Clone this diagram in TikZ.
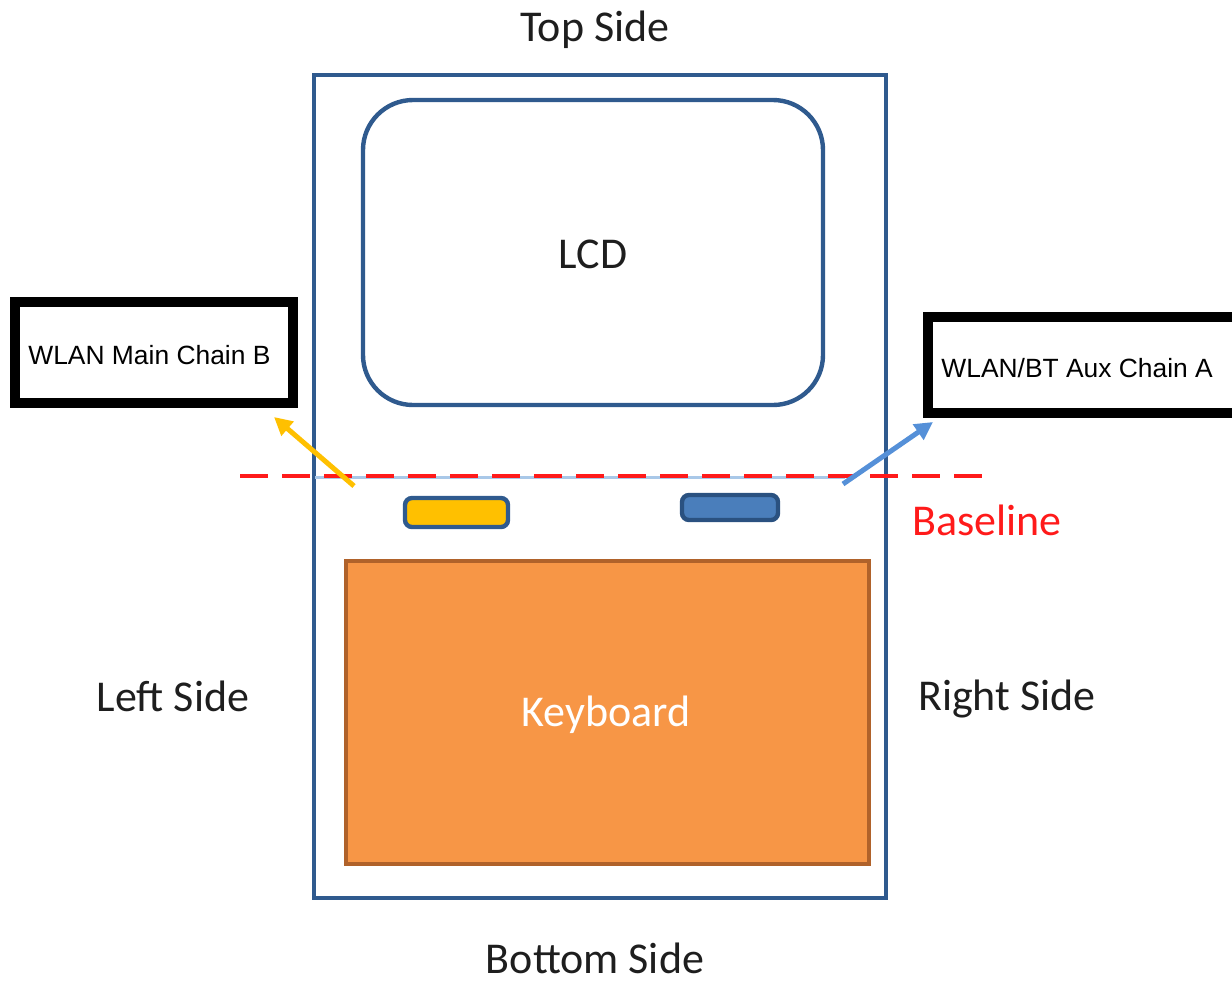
\documentclass[tikz,border=0pt]{standalone}
\usepackage{fontspec}
\setmainfont{Carlito}
\newfontfamily\arialf{Liberation Sans}
\usetikzlibrary{arrows.meta}
\definecolor{frameblue}{HTML}{2F5A8E}
\definecolor{chipblue}{HTML}{4A7EBB}
\definecolor{kbfill}{HTML}{F79646}
\definecolor{kbdraw}{HTML}{B0622A}
\definecolor{ygold}{HTML}{FFC000}
\definecolor{arrblue}{HTML}{5590D8}
\definecolor{lightline}{HTML}{A9C8E8}
\definecolor{basered}{HTML}{FF1A1A}
\definecolor{txtdark}{HTML}{1E1E1E}
\tikzset{
  lbl/.style={font=\fontsize{22}{26}\selectfont, inner sep=0pt, text=txtdark},
  wbox/.style={draw=black, line width=5pt, fill=white, inner sep=0pt},
  wtxt/.style={font=\arialf\fontsize{13.2}{15}\selectfont, inner sep=0pt, anchor=west},
  chip/.style={line width=2.2pt, rounded corners=3.5pt, inner sep=0pt},
  arr/.style={line width=2.5pt, -{Triangle[length=9pt,width=9pt]}},
}
\begin{document}
\begin{tikzpicture}[x=0.5pt,y=-0.5pt]
\useasboundingbox (0,0) rectangle (1232,981);
% outer frame
\node[draw=frameblue, line width=2.4pt, minimum width=286pt, minimum height=411.5pt, inner sep=0pt] (frame) at (600,486.5) {};
% LCD
\node[draw=frameblue, line width=2.2pt, rounded corners=25pt, minimum width=230pt, minimum height=152.5pt, inner sep=0pt] (lcd) at (593,252.5) {};
\node[lbl] (lcdtxt) at (593,254) {LCD};
% keyboard
\node[draw=kbdraw, fill=kbfill, line width=2.2pt, minimum width=261.5pt, minimum height=151.5pt, inner sep=0pt] (kb) at (607.5,712.5) {};
\node[lbl, text=white] (kbtxt) at (606,715) {Keyboard};
% chips
\node[chip, draw=frameblue, fill=ygold, minimum width=51.5pt, minimum height=14.5pt] (ychip) at (456.5,512.5) {};
\node[chip, draw=frameblue!90!black, fill=chipblue, minimum width=48pt, minimum height=12.5pt] (bchip) at (730,507.5) {};
% baseline
\coordinate (lb1) at (315,477);
\coordinate (lb2) at (845,477);
\draw[lightline, line width=1.5pt] (lb1) -- (lb2);
\coordinate (bl1) at (240,476);
\coordinate (bl2) at (985,476);
\draw[basered, line width=2pt, dash pattern=on 14pt off 7pt] (bl1) -- (bl2);
\node[lbl, text=basered] (baseline) at (987,520) {Baseline};
% side labels
\node[lbl] (top) at (595,30) {Top Side};
\node[lbl] (bottom) at (595,958) {Bottom Side};
\node[lbl] (left) at (173,696) {Left Side};
\node[lbl] (right) at (1007,699) {Right Side};
% antenna boxes
\node[wbox, minimum width=139pt, minimum height=50.5pt] (chainb) at (154,352.5) {};
\node[wtxt] (chainbtxt) at (28,355) {WLAN Main Chain B};
\node[wbox, minimum width=155pt, minimum height=48pt] (chaina) at (1083,365) {};
\node[wtxt] (chainatxt) at (941,368) {WLAN/BT Aux Chain A};
% arrows
\coordinate (ya) at (354,486);
\coordinate (yb) at (274,417);
\draw[arr, ygold] (ya) -- (yb);
\coordinate (ba) at (843,484);
\coordinate (bb) at (933,422);
\draw[arr, arrblue] (ba) -- (bb);
\end{tikzpicture}
\end{document}
